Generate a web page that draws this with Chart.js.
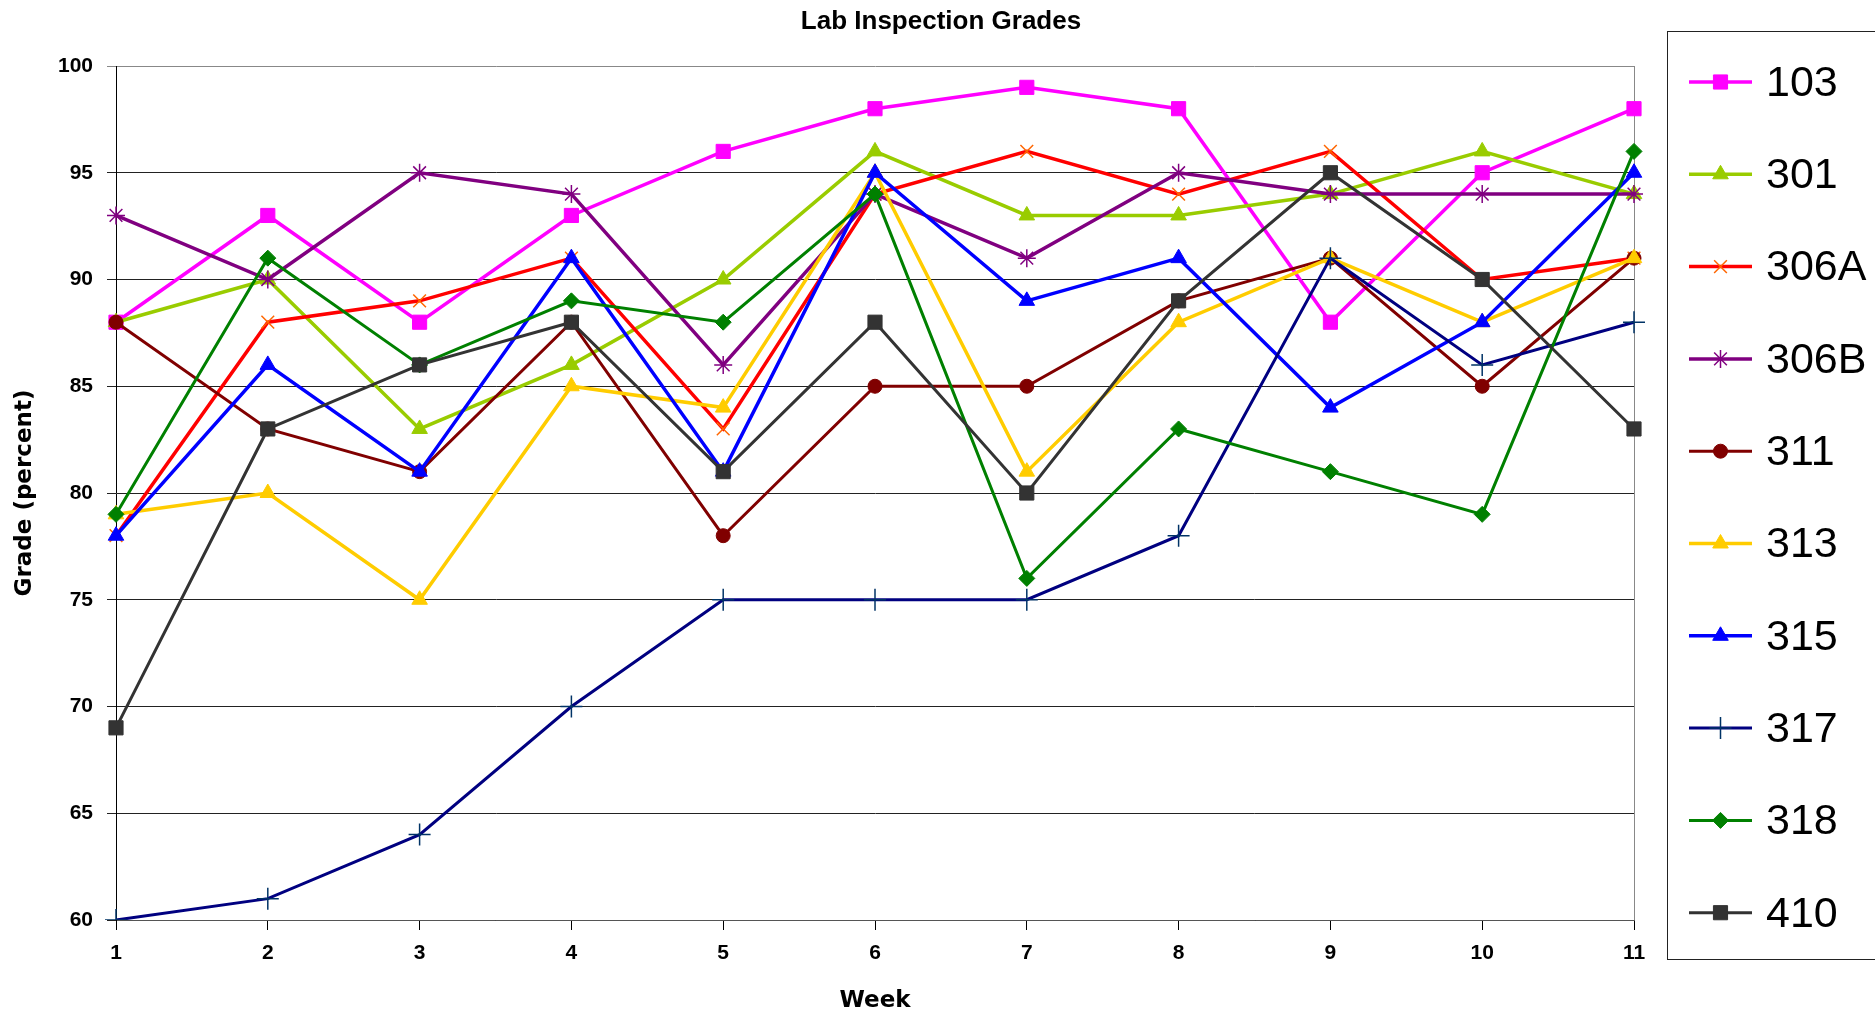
<!DOCTYPE html>
<html>
<head>
<meta charset="utf-8">
<script src="https://cdn.jsdelivr.net/npm/chart.js"></script>
<style>
  html, body { margin: 0; padding: 0; background: #fff; }
  #wrap { width: 1875px; height: 1019px; }
</style>
</head>
<body>
<div id="wrap"><canvas id="grades" width="1875" height="1019"></canvas></div>
<script>
// week numbers
var weeks = ["1", "2", "3", "4", "5", "6", "7", "8", "9", "10", "11"];
var yTicks = [60, 65, 70, 75, 80, 85, 90, 95, 100];

// grades per lab
var lab103  = [88, 93, 88, 93, 96, 98, 99, 98, 88, 95, 98];
var lab301  = [88, 90, 83, 86, 90, 96, 93, 93, 94, 96, 94];
var lab306A = [78, 88, 89, 91, 83, 94, 96, 94, 96, 90, 91];
var lab306B = [93, 90, 95, 94, 86, 94, 91, 95, 94, 94, 94];
var lab311  = [88, 83, 81, 88, 78, 85, 85, 89, 91, 85, 91];
var lab313  = [79, 80, 75, 85, 84, 95, 81, 88, 91, 88, 91];
var lab315  = [78, 86, 81, 91, 81, 95, 89, 91, 84, 88, 95];
var lab317  = [60, 61, 64, 70, 75, 75, 75, 78, 91, 86, 88];
var lab318  = [79, 91, 86, 89, 88, 94, 76, 83, 81, 79, 96];
var lab410  = [69, 83, 86, 88, 81, 88, 80, 89, 95, 90, 83];

function serie(label, data, line, mark, style, radius, width) {
    return {
        label: label,
        data: data,
        borderColor: line,
        backgroundColor: mark,
        pointBackgroundColor: mark,
        pointBorderColor: mark,
        pointStyle: style,
        pointRadius: radius,
        pointHoverRadius: radius,
        pointBorderWidth: style === 'cross' || style === 'crossRot' || style === 'star' ? 1.5 : 1,
        borderWidth: width,
        tension: 0,
        fill: false
    };
}

var datasets = [
    serie("103", lab103, "#FF00FF", "#FF00FF", "rect", 10, 3.5),
    serie("301", lab301, "#99CC00", "#99CC00", "triangle", 9, 3.5),
    serie("306A", lab306A, "#FF0000", "#FF6600", "crossRot", 9, 3.5),
    serie("306B", lab306B, "#800080", "#800080", "star", 9, 3.5),
    serie("311", lab311, "#800000", "#800000", "circle", 7, 3),
    serie("313", lab313, "#FFCC00", "#FFCC00", "triangle", 9, 3.5),
    serie("315", lab315, "#0000FF", "#0000FF", "triangle", 9, 3.5),
    serie("317", lab317, "#000080", "#003366", "cross", 11, 3),
    serie("318", lab318, "#008000", "#008000", "rectRot", 8, 3),
    serie("410", lab410, "#333333", "#333333", "rect", 10, 3)
];
// last series on top, like the original
datasets.forEach(function (d, i) { d.order = datasets.length - i; });

var boxLegend = {
    id: 'boxLegend',
    afterDraw: function (chart) {
        var ctx = chart.ctx;
        ctx.save();
        // chart title
        ctx.fillStyle = '#000';
        ctx.font = 'bold 26px "Liberation Sans", Arial, sans-serif';
        ctx.textAlign = 'center';
        ctx.textBaseline = 'middle';
        ctx.fillText('Lab Inspection Grades', 941, 22);

        // legend box
        ctx.strokeStyle = '#222';
        ctx.lineWidth = 1;
        ctx.strokeRect(1667.5, 31.5, 230, 928);

        ctx.font = '43px "Liberation Sans", Arial, sans-serif';
        ctx.textAlign = 'left';
        chart.data.datasets.forEach(function (d, i) {
            var y = 82 + i * 92.3;
            ctx.strokeStyle = d.borderColor;
            ctx.lineWidth = d.borderWidth;
            ctx.beginPath();
            ctx.moveTo(1689, y);
            ctx.lineTo(1752, y);
            ctx.stroke();
            ctx.fillStyle = d.pointBackgroundColor;
            ctx.strokeStyle = d.pointBorderColor;
            ctx.lineWidth = d.pointBorderWidth;
            Chart.helpers.drawPoint(ctx, {
                pointStyle: d.pointStyle,
                radius: d.pointRadius,
                rotation: 0,
                borderWidth: d.pointBorderWidth
            }, 1720.5, y);
            ctx.fillStyle = '#000';
            ctx.fillText(d.label, 1766, y + 2);
        });
        ctx.restore();
    }
};

new Chart(document.getElementById("grades"), {
    type: 'line',
    data: {
        labels: weeks,
        datasets: datasets
    },
    plugins: [boxLegend],
    options: {
        responsive: false,
        animation: false,
        layout: {
            padding: { top: 66, right: 241, bottom: 0, left: 0 }
        },
        plugins: {
            legend: { display: false },
            title: { display: false },
            tooltip: { enabled: false }
        },
        scales: {
            x: {
                type: 'category',
                offset: false,
                afterFit: function (scale) { scale.height = 99; },
                grid: {
                    drawOnChartArea: true,
                    color: function (c) { return c.index === weeks.length - 1 ? '#888' : 'rgba(0,0,0,0)'; },
                    tickColor: '#000',
                    tickLength: 10
                },
                border: { display: true, color: '#555', width: 1 },
                ticks: {
                    color: '#000',
                    padding: 11,
                    maxRotation: 0,
                    font: { family: '"Liberation Sans", Arial, sans-serif', size: 21, weight: 'bold' }
                },
                title: {
                    display: true,
                    text: 'Week',
                    color: '#000',
                    padding: { top: 4, bottom: 4 },
                    font: { family: '"DejaVu Sans", Verdana, sans-serif', size: 23, weight: 'bold' }
                }
            },
            y: {
                min: 60,
                max: 100,
                afterFit: function (scale) { scale.width = 116; },
                afterBuildTicks: function (scale) {
                    scale.ticks = yTicks.map(function (v) { return { value: v }; });
                },
                grid: {
                    color: function (c) { return c.tick && c.tick.value === 100 ? '#888' : '#222'; },
                    tickColor: function (c) { return c.tick && c.tick.value === 100 ? '#888' : '#222'; },
                    tickLength: 9
                },
                border: { display: true, color: '#000', width: 1 },
                ticks: {
                    color: '#000',
                    padding: 14,
                    font: { family: '"Liberation Sans", Arial, sans-serif', size: 21, weight: 'bold' }
                },
                title: {
                    display: true,
                    text: 'Grade (percent)',
                    color: '#000',
                    padding: { top: 11, bottom: 11 },
                    font: { family: '"DejaVu Sans", Verdana, sans-serif', size: 23, weight: 'bold' }
                }
            }
        }
    }
});
</script>
</body>
</html>
